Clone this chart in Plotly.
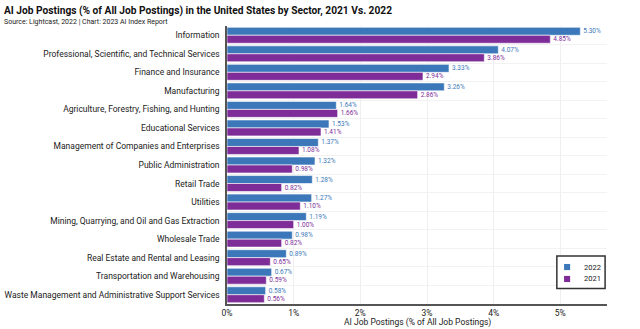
import plotly.graph_objects as go

sectors = [
    "Information",
    "Professional, Scientific, and Technical Services",
    "Finance and Insurance",
    "Manufacturing",
    "Agriculture, Forestry, Fishing, and Hunting",
    "Educational Services",
    "Management of Companies and Enterprises",
    "Public Administration",
    "Retail Trade",
    "Utilities",
    "Mining, Quarrying, and Oil and Gas Extraction",
    "Wholesale Trade",
    "Real Estate and Rental and Leasing",
    "Transportation and Warehousing",
    "Waste Management and Administrative Support Services",
]
postings_2022 = [5.30, 4.07, 3.33, 3.26, 1.64, 1.53, 1.37, 1.32, 1.28, 1.27, 1.19, 0.98, 0.89, 0.67, 0.58]
postings_2021 = [4.85, 3.86, 2.94, 2.86, 1.66, 1.41, 1.08, 0.98, 0.82, 1.10, 1.00, 0.82, 0.65, 0.59, 0.56]
x_ticks = [0, 1, 2, 3, 4, 5]
x_tick_labels = ["0%", "1%", "2%", "3%", "4%", "5%"]

BLUE = "#3c78b9"
PURPLE = "#7d2c98"
FONT = "Roboto"

series = [("2022", postings_2022, BLUE), ("2021", postings_2021, PURPLE)]

fig = go.Figure()
for name, vals, color in series:
    fig.add_trace(go.Bar(
        name=name,
        y=sectors,
        x=vals,
        orientation="h",
        marker=dict(color=color, line=dict(color="white", width=0.6)),
        text=[f"{v:.2f}%" for v in vals],
        textposition="outside",
        textfont=dict(size=6.5, color=color, family=FONT),
        cliponaxis=False,
        showlegend=False,
    ))

fig.update_layout(
    width=640, height=329,
    margin=dict(l=227, r=33, t=26, b=25),
    paper_bgcolor="white",
    plot_bgcolor="white",
    barmode="group",
    bargap=0.14,
    bargroupgap=0,
    font=dict(family=FONT, color="#222"),
    uniformtext=dict(minsize=6, mode="show"),
)

fig.update_xaxes(
    range=[0, 5.7],
    tickvals=x_ticks,
    ticktext=x_tick_labels,
    tickfont=dict(size=8.5, family=FONT, color="#222"),
    showgrid=True, gridcolor="#efefef", gridwidth=1,
    showline=True, linecolor="#555555", linewidth=1.5,
    zeroline=False,
    ticks="",
    ticklabelstandoff=0,
    automargin=False,
)
fig.update_yaxes(
    autorange="reversed",
    tickfont=dict(size=8.5, family=FONT, color="#222"),
    showgrid=True, gridcolor="#f2f2f2", gridwidth=1,
    tickson="boundaries",
    showline=True, linecolor="#555555", linewidth=1.5,
    ticks="", ticklabelstandoff=4,
    automargin=False,
)

# x-axis title placed below the tick labels
fig.add_annotation(
    text="AI Job Postings (% of All Job Postings)",
    xref="paper", yref="paper", x=0.5, y=-0.065, xanchor="center", yanchor="middle",
    showarrow=False, font=dict(size=8.5, family=FONT, color="#222"),
)

# Legend box drawn in paper space, lower right of the plot area
fig.add_shape(type="rect", xref="paper", yref="paper",
              x0=0.868, x1=0.995, y0=0.056, y1=0.173,
              line=dict(color="#333333", width=1.5), fillcolor="rgba(255,255,255,1)")
legend_rows = [0.133, 0.090]
for (name, _, color), yc in zip(series, legend_rows):
    fig.add_shape(type="rect", xref="paper", yref="paper",
                  x0=0.887, x1=0.903, y0=yc - 0.011, y1=yc + 0.011,
                  line=dict(width=0), fillcolor=color)
    fig.add_annotation(text=name, xref="paper", yref="paper",
                       x=0.935, y=yc, xanchor="left", yanchor="middle",
                       showarrow=False, font=dict(size=7.5, family=FONT, color="#222"))

fig.add_annotation(
    text="<b>AI Job Postings (% of All Job Postings) in the United States by Sector, 2021 Vs. 2022</b>",
    xref="paper", yref="paper", x=0, y=1, xanchor="left", yanchor="bottom",
    xshift=-225, yshift=7, showarrow=False,
    font=dict(size=10.2, family=FONT, color="#111"),
)
fig.add_annotation(
    text="Source: Lightcast, 2022 | Chart: 2023 AI Index Report",
    xref="paper", yref="paper", x=0, y=1, xanchor="left", yanchor="bottom",
    xshift=-225, yshift=-2, showarrow=False,
    font=dict(size=7, family=FONT, color="#222"),
)

fig.write_html("out.html")
